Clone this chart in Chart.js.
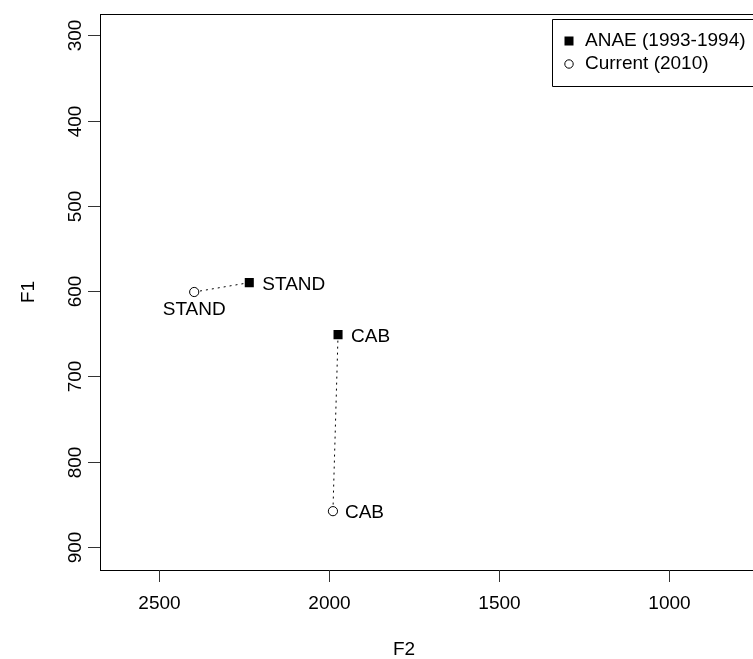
<!DOCTYPE html>
<html>
<head>
<meta charset="utf-8">
<script src="https://cdn.jsdelivr.net/npm/chart.js@4/dist/chart.umd.min.js"></script>
<style>
  html, body { margin: 0; padding: 0; background: #fff; overflow: hidden; }
  canvas { display: block; }
</style>
</head>
<body>
<canvas id="c" width="760" height="659"></canvas>
<script>
// Vowel formants: F2 (x) against F1 (y), both axes reversed
const categories = ['STAND', 'CAB'];
const seriesNames = ['ANAE (1993-1994)', 'Current (2010)'];
const anaeF2 = [2234, 1973];
const anaeF1 = [590, 651];
const currentF2 = [2396, 1988];
const currentF1 = [601, 858];
const xTicks = [2500, 2000, 1500, 1000];
const yTicks = [300, 400, 500, 600, 700, 800, 900];
const xTitle = 'F2';
const yTitle = 'F1';

const FONT = '"Liberation Sans", Arial, Helvetica, sans-serif';
const FS = 19;

const pts = (xs, ys) => xs.map((x, i) => ({ x: x, y: ys[i] }));

const datasets = [
  {
    label: seriesNames[0],
    data: pts(anaeF2, anaeF1),
    pointStyle: 'rect',
    pointRadius: 6.4,
    backgroundColor: '#000',
    borderColor: '#000',
    borderWidth: 0,
    showLine: false
  },
  {
    label: seriesNames[1],
    data: pts(currentF2, currentF1),
    pointStyle: 'circle',
    pointRadius: 4.6,
    backgroundColor: '#fff',
    borderColor: '#000',
    borderWidth: 1,
    showLine: false
  }
];
// dotted segment joining each vowel's two measurements
categories.forEach((c, i) => {
  datasets.push({
    label: c,
    data: [{ x: anaeF2[i], y: anaeF1[i] }, { x: currentF2[i], y: currentF1[i] }],
    showLine: true,
    borderColor: '#000',
    borderWidth: 1,
    borderDash: [2, 4],
    pointRadius: 0,
    fill: false
  });
});

const rPlot = {
  id: 'rPlot',
  afterDraw(chart) {
    const ctx = chart.ctx;
    const a = chart.chartArea;
    const xs = chart.scales.x, ys = chart.scales.y;
    ctx.save();
    // frame
    ctx.strokeStyle = '#000';
    ctx.lineWidth = 1;
    ctx.strokeRect(Math.round(a.left) + 0.5, Math.round(a.top) + 0.5,
                   Math.round(a.right - a.left), Math.round(a.bottom - a.top));

    ctx.fillStyle = '#000';
    ctx.font = FS + 'px ' + FONT;
    ctx.strokeStyle = '#333';

    // x axis ticks and labels
    ctx.textAlign = 'center';
    ctx.textBaseline = 'middle';
    xTicks.forEach(v => {
      const px = Math.round(xs.getPixelForValue(v)) + 0.5;
      ctx.beginPath();
      ctx.moveTo(px, a.bottom);
      ctx.lineTo(px, a.bottom + 12);
      ctx.stroke();
      ctx.fillText(String(v), px, a.bottom + 34);
    });
    // y axis ticks and rotated labels
    yTicks.forEach(v => {
      const py = Math.round(ys.getPixelForValue(v)) + 0.5;
      ctx.beginPath();
      ctx.moveTo(a.left - 12, py);
      ctx.lineTo(a.left, py);
      ctx.stroke();
      ctx.save();
      ctx.translate(a.left - 24, py);
      ctx.rotate(-Math.PI / 2);
      ctx.fillText(String(v), 0, 0);
      ctx.restore();
    });

    // axis titles
    ctx.fillText(xTitle, 404, a.bottom + 80);
    ctx.save();
    ctx.translate(29, (a.top + a.bottom) / 2);
    ctx.rotate(-Math.PI / 2);
    ctx.fillText(yTitle, 0, 0);
    ctx.restore();

    // point labels
    ctx.textBaseline = 'alphabetic';
    const m0 = chart.getDatasetMeta(0).data;
    const m1 = chart.getDatasetMeta(1).data;
    categories.forEach((c, i) => {
      const p = m0[i];
      ctx.textAlign = 'left';
      ctx.fillText(c, p.x + 13, p.y + 7);
      const q = m1[i];
      if (i === 0) {
        ctx.textAlign = 'center';
        ctx.fillText(c, q.x, q.y + 23);
      } else {
        ctx.textAlign = 'left';
        ctx.fillText(c, q.x + 12, q.y + 7);
      }
    });

    // legend
    const lx = 552, ly = 19, lb = 86;
    ctx.strokeStyle = '#000';
    ctx.beginPath();
    ctx.moveTo(chart.width + 5, ly + 0.5);
    ctx.lineTo(lx + 0.5, ly + 0.5);
    ctx.lineTo(lx + 0.5, lb + 0.5);
    ctx.lineTo(chart.width + 5, lb + 0.5);
    ctx.stroke();
    const rows = [41, 64];
    ctx.fillStyle = '#000';
    ctx.fillRect(569 - 4.5, rows[0] - 4.5, 9, 9);
    ctx.beginPath();
    ctx.arc(569, rows[1], 4.2, 0, Math.PI * 2);
    ctx.lineWidth = 1;
    ctx.stroke();
    ctx.textAlign = 'left';
    ctx.textBaseline = 'middle';
    ctx.fillText(seriesNames[0], 585, rows[0]);
    ctx.fillText(seriesNames[1], 585, rows[1]);
    ctx.restore();
  }
};

new Chart(document.getElementById('c'), {
  type: 'scatter',
  data: { datasets: datasets },
  options: {
    responsive: false,
    animation: false,
    layout: { padding: { top: 14, right: 3, left: 0, bottom: 0 } },
    plugins: { legend: { display: false }, tooltip: { enabled: false } },
    scales: {
      x: {
        type: 'linear', reverse: true, min: 751, max: 2673,
        grid: { display: false }, border: { display: false },
        ticks: { display: false },
        afterFit(s) { s.height = 89; }
      },
      y: {
        type: 'linear', reverse: true, min: 275, max: 927,
        grid: { display: false }, border: { display: false },
        ticks: { display: false },
        afterFit(s) { s.width = 100; }
      }
    }
  },
  plugins: [rPlot]
});
</script>
</body>
</html>
